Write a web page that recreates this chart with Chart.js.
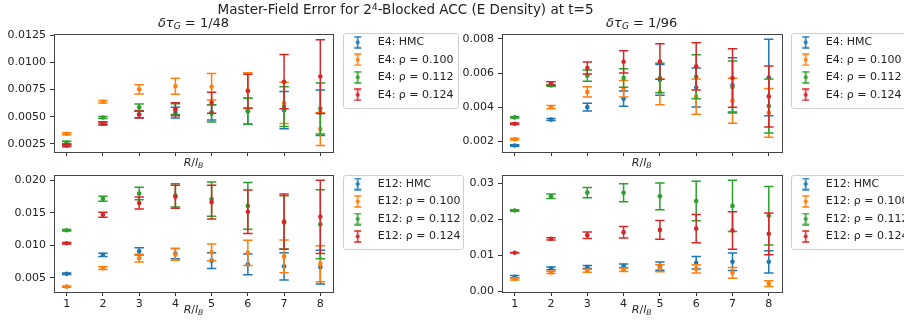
<!DOCTYPE html>
<html><head><meta charset="utf-8">
<script src="https://cdn.jsdelivr.net/npm/chart.js@4.4.1/dist/chart.umd.min.js"></script>
<style>
html,body{margin:0;padding:0;background:#fff;}
#fig{position:relative;width:904px;height:329px;overflow:hidden;font-family:'DejaVu Sans',sans-serif;color:#222;}
#fig canvas{position:absolute;left:0;top:0;}
.t{position:absolute;white-space:nowrap;line-height:1;transform:translateX(-50%);}
.big{font-size:13px;}
.title{font-size:13.5px;}
.small{font-size:11px;}
i{font-style:italic;}
sub{font-size:0.7em;vertical-align:-0.25em;line-height:0;}
sup{font-size:0.7em;vertical-align:0.45em;line-height:0;}
</style></head><body>
<div id="fig">
<canvas id="cTL" width="904" height="329"></canvas>
<canvas id="cTR" width="904" height="329"></canvas>
<canvas id="cBL" width="904" height="329"></canvas>
<canvas id="cBR" width="904" height="329"></canvas>
<div class="t title" style="left:405.5px;top:3.4px;">Master-Field Error for 2<sup>4</sup>-Blocked ACC (E Density) at t=5</div>
<div class="t big" style="left:193.5px;top:16px;"><i>δτ</i><sub><i>G</i></sub> = 1/48</div>
<div class="t big" style="left:641.7px;top:16px;"><i>δτ</i><sub><i>G</i></sub> = 1/96</div>
<div class="t small" style="left:193.5px;top:156.5px;"><i>R</i>/<i>l</i><sub><i>B</i></sub></div>
<div class="t small" style="left:641.7px;top:156.5px;"><i>R</i>/<i>l</i><sub><i>B</i></sub></div>
<div class="t small" style="left:193.5px;top:303.5px;"><i>R</i>/<i>l</i><sub><i>B</i></sub></div>
<div class="t small" style="left:641.7px;top:303.5px;"><i>R</i>/<i>l</i><sub><i>B</i></sub></div>
</div>
<script>
// ---------- DATA ----------
const R = [1, 2, 3, 4, 5, 6, 7, 8];
const seriesLabelsE4 = ['E4: HMC', 'E4: ρ = 0.100', 'E4: ρ = 0.112', 'E4: ρ = 0.124'];
const seriesLabelsE12 = ['E12: HMC', 'E12: ρ = 0.100', 'E12: ρ = 0.112', 'E12: ρ = 0.124'];

// E4, dtau = 1/48
const e4_48_hmc     = [0.00232, 0.00440, 0.00520, 0.00537, 0.00540, 0.00550, 0.00560, 0.00535];
const e4_48_hmc_err = [0.00010, 0.00012, 0.00030, 0.00050, 0.00070, 0.00120, 0.00172, 0.00210];
const e4_48_r100     = [0.00342, 0.00638, 0.00752, 0.00780, 0.00776, 0.00740, 0.00626, 0.00385];
const e4_48_r100_err = [0.00010, 0.00012, 0.00043, 0.00073, 0.00122, 0.00165, 0.00190, 0.00150];
const e4_48_r112     = [0.00262, 0.00492, 0.00586, 0.00570, 0.00530, 0.00550, 0.00592, 0.00575];
const e4_48_r112_err = [0.00010, 0.00010, 0.00030, 0.00050, 0.00080, 0.00120, 0.00183, 0.00235];
const e4_48_r124     = [0.00238, 0.00433, 0.00520, 0.00569, 0.00628, 0.00736, 0.00822, 0.00870];
const e4_48_r124_err = [0.00008, 0.00010, 0.00033, 0.00060, 0.00096, 0.00156, 0.00250, 0.00340];

// E4, dtau = 1/96
const e4_96_hmc     = [0.00175, 0.00327, 0.00400, 0.00450, 0.00560, 0.00515, 0.00530, 0.00574];
const e4_96_hmc_err = [0.00004, 0.00006, 0.00023, 0.00045, 0.00090, 0.00114, 0.00159, 0.00224];
const e4_96_r100     = [0.00212, 0.00400, 0.00489, 0.00508, 0.00489, 0.00462, 0.00438, 0.00367];
const e4_96_r100_err = [0.00005, 0.00010, 0.00030, 0.00049, 0.00075, 0.00103, 0.00132, 0.00143];
const e4_96_r112     = [0.00340, 0.00527, 0.00585, 0.00571, 0.00571, 0.00578, 0.00518, 0.00407];
const e4_96_r112_err = [0.00004, 0.00005, 0.00033, 0.00054, 0.00086, 0.00129, 0.00153, 0.00158];
const e4_96_r124     = [0.00303, 0.00539, 0.00630, 0.00666, 0.00668, 0.00639, 0.00571, 0.00463];
const e4_96_r124_err = [0.00004, 0.00010, 0.00035, 0.00065, 0.00104, 0.00138, 0.00172, 0.00179];

// E12, dtau = 1/48
const e12_48_hmc     = [0.00561, 0.00852, 0.00905, 0.00870, 0.00762, 0.00705, 0.00675, 0.00662];
const e12_48_hmc_err = [0.00010, 0.00025, 0.00056, 0.00080, 0.00120, 0.00158, 0.00209, 0.00260];
const e12_48_r100     = [0.00362, 0.00648, 0.00800, 0.00858, 0.00890, 0.00882, 0.00828, 0.00715];
const e12_48_r100_err = [0.00010, 0.00020, 0.00060, 0.00090, 0.00130, 0.00196, 0.00253, 0.00278];
const e12_48_r112     = [0.01230, 0.01714, 0.01795, 0.01765, 0.01710, 0.01605, 0.01350, 0.01323];
const e12_48_r112_err = [0.00010, 0.00038, 0.00095, 0.00179, 0.00263, 0.00358, 0.00410, 0.00530];
const e12_48_r124     = [0.01030, 0.01469, 0.01650, 0.01745, 0.01662, 0.01514, 0.01362, 0.01437];
const e12_48_r124_err = [0.00010, 0.00038, 0.00092, 0.00176, 0.00260, 0.00335, 0.00424, 0.00564];

// E12, dtau = 1/96
const e12_96_hmc     = [0.00414, 0.00644, 0.00681, 0.00718, 0.00705, 0.00800, 0.00828, 0.00825];
const e12_96_hmc_err = [0.00030, 0.00040, 0.00040, 0.00050, 0.00115, 0.00175, 0.00240, 0.00310];
const e12_96_r100     = [0.00350, 0.00534, 0.00580, 0.00607, 0.00648, 0.00630, 0.00520, 0.00221];
const e12_96_r100_err = [0.00030, 0.00030, 0.00040, 0.00050, 0.00100, 0.00115, 0.00150, 0.00080];
const e12_96_r112     = [0.02245, 0.02641, 0.02742, 0.02740, 0.02640, 0.02510, 0.02375, 0.02105];
const e12_96_r112_err = [0.00020, 0.00060, 0.00140, 0.00250, 0.00370, 0.00550, 0.00710, 0.00810];
const e12_96_r124     = [0.01077, 0.01463, 0.01564, 0.01647, 0.01710, 0.01745, 0.01693, 0.01600];
const e12_96_r124_err = [0.00010, 0.00030, 0.00090, 0.00160, 0.00260, 0.00390, 0.00520, 0.00580];

// tick labels
const xTicks = [1, 2, 3, 4, 5, 6, 7, 8];
const yTicksTL = [0.0025, 0.0050, 0.0075, 0.0100, 0.0125];
const yTicksTR = [0.002, 0.004, 0.006, 0.008];
const yTicksBL = [0.005, 0.010, 0.015, 0.020];
const yTicksBR = [0.00, 0.01, 0.02, 0.03];

// ---------- STYLE ----------
const COLORS = ['#1f77b4', '#ff7f0e', '#2ca02c', '#d62728'];
const FONT = 'DejaVu Sans';
const TEXT = '#222';

function glyph(color) {
  const c = document.createElement('canvas');
  c.width = 9; c.height = 13;
  const g = c.getContext('2d');
  g.strokeStyle = color; g.lineWidth = 1.5;
  g.beginPath();
  g.moveTo(4.5, 1); g.lineTo(4.5, 12);
  g.moveTo(1, 1); g.lineTo(8, 1);
  g.moveTo(1, 12); g.lineTo(8, 12);
  g.stroke();
  g.fillStyle = color;
  g.beginPath(); g.arc(4.5, 6.5, 2, 0, Math.PI * 2); g.fill();
  return c;
}
const GLYPHS = COLORS.map(glyph);

const errorBarPlugin = {
  id: 'errbars',
  beforeDatasetDraw(chart, args) {
    const ds = chart.data.datasets[args.index];
    const ys = chart.scales.y;
    const ctx = chart.ctx;
    const cap = 4.7;
    ctx.save();
    ctx.strokeStyle = ds.borderColor;
    ctx.lineWidth = 1.5;
    args.meta.data.forEach((pt, i) => {
      const v = ds.data[i].y, e = ds.errors[i];
      const yT = ys.getPixelForValue(v + e), yB = ys.getPixelForValue(v - e);
      const x = pt.x;
      ctx.beginPath();
      ctx.moveTo(x, yT); ctx.lineTo(x, yB);
      ctx.moveTo(x - cap, yT); ctx.lineTo(x + cap, yT);
      ctx.moveTo(x - cap, yB); ctx.lineTo(x + cap, yB);
      ctx.stroke();
    });
    ctx.restore();
  }
};

const framePlugin = {
  id: 'frame',
  beforeDraw(chart, args, opts) {
    const ctx = chart.ctx, b = opts.box;
    ctx.save();
    ctx.fillStyle = 'rgba(255,255,255,0.8)';
    ctx.strokeStyle = '#d0d0d0';
    ctx.lineWidth = 1;
    ctx.beginPath();
    ctx.roundRect(b.x + 0.5, b.y + 0.5, b.w, b.h, 2.5);
    ctx.fill(); ctx.stroke();
    ctx.restore();
  },
  afterDraw(chart) {
    const a = chart.chartArea, ctx = chart.ctx;
    ctx.save();
    ctx.strokeStyle = '#444';
    ctx.lineWidth = 1;
    ctx.strokeRect(Math.round(a.left) + 0.5, Math.round(a.top) + 0.5,
                   Math.round(a.right) - Math.round(a.left), Math.round(a.bottom) - Math.round(a.top));
    ctx.restore();
  }
};

const legendPosPlugin = {
  id: 'legendPos',
  afterLayout(chart, args, opts) {
    const lg = chart.legend;
    if (!lg) return;
    lg.left = opts.x; lg.top = opts.y;
    lg.right = opts.x + 140; lg.bottom = opts.y + 90;
  }
};

function makeDatasets(labels, vals, errs) {
  return vals.map((v, k) => ({
    label: labels[k],
    data: R.map((r, i) => ({ x: r, y: v[i] })),
    errors: errs[k],
    backgroundColor: COLORS[k],
    borderColor: COLORS[k],
    pointRadius: 2.3,
    pointHoverRadius: 2.3,
    pointBorderWidth: 0,
    showLine: false,
    order: 3 - k
  }));
}

function makeChart(id, p) {
  new Chart(document.getElementById(id), {
    type: 'scatter',
    data: { datasets: makeDatasets(p.labels, p.vals, p.errs) },
    plugins: [errorBarPlugin, framePlugin, legendPosPlugin],
    options: {
      responsive: false,
      animation: false,
      devicePixelRatio: 1,
      events: [],
      layout: { padding: p.pad },
      scales: {
        x: {
          type: 'linear', min: 0.65, max: 8.35,
          afterBuildTicks: s => { s.ticks = xTicks.map(v => ({ value: v })); },
          afterFit: s => { s.height = p.xH; },
          ticks: { display: p.xLabels, color: TEXT, font: { family: FONT, size: 11 }, padding: 2, maxRotation: 0,
                   callback: v => String(v) },
          grid: { display: true, drawOnChartArea: false, drawTicks: true, tickLength: 4, color: '#333', lineWidth: 1 },
          border: { display: false }
        },
        y: {
          type: 'linear', min: p.yMin, max: p.yMax,
          afterBuildTicks: s => { s.ticks = p.yTicks.map(v => ({ value: v })); },
          afterFit: s => { s.width = p.yW; },
          ticks: { color: TEXT, font: { family: FONT, size: 11 }, padding: 4,
                   callback: v => Number(v).toFixed(p.dec) },
          grid: { display: true, drawOnChartArea: false, drawTicks: true, tickLength: 4, color: '#333', lineWidth: 1 },
          border: { display: false }
        }
      },
      plugins: {
        title: { display: false },
        tooltip: { enabled: false },
        legend: {
          display: true, position: 'right', align: 'start', maxWidth: 60,
          labels: {
            color: TEXT, font: { family: FONT, size: 11 },
            usePointStyle: true, pointStyleWidth: 29, boxWidth: 29, boxHeight: 11, padding: 6.5,
            generateLabels: chart => {
              const items = Chart.defaults.plugins.legend.labels.generateLabels(chart);
              items.forEach(it => { it.pointStyle = GLYPHS[it.datasetIndex]; it.lineWidth = 0; });
              items.sort((a, b) => a.datasetIndex - b.datasetIndex);
              return items;
            }
          }
        },
        frame: { box: p.box },
        legendPos: p.leg
      }
    }
  });
}

makeChart('cTL', {
  labels: seriesLabelsE4,
  vals: [e4_48_hmc, e4_48_r100, e4_48_r112, e4_48_r124],
  errs: [e4_48_hmc_err, e4_48_r100_err, e4_48_r112_err, e4_48_r124_err],
  pad: { left: 0, right: 511, top: 34, bottom: 159 }, xH: 18, yW: 54, xLabels: false,
  yMin: 0.00174, yMax: 0.01262, yTicks: yTicksTL, dec: 4,
  box: { x: 343, y: 33, w: 115, h: 75 }, leg: { x: 336.7, y: 30.3 }
});
makeChart('cTR', {
  labels: seriesLabelsE4,
  vals: [e4_96_hmc, e4_96_r100, e4_96_r112, e4_96_r124],
  errs: [e4_96_hmc_err, e4_96_r100_err, e4_96_r112_err, e4_96_r124_err],
  pad: { left: 460, right: 62.5, top: 34, bottom: 159 }, xH: 18, yW: 42, xLabels: false,
  yMin: 0.00137, yMax: 0.00829, yTicks: yTicksTR, dec: 3,
  box: { x: 791, y: 33, w: 130, h: 75 }, leg: { x: 784.7, y: 30.3 }
});
makeChart('cBL', {
  labels: seriesLabelsE12,
  vals: [e12_48_hmc, e12_48_r100, e12_48_r112, e12_48_r124],
  errs: [e12_48_hmc_err, e12_48_r100_err, e12_48_r112_err, e12_48_r124_err],
  pad: { left: 0, right: 511, top: 175, bottom: 0 }, xH: 37, yW: 54, xLabels: true,
  yMin: 0.0028, yMax: 0.0208, yTicks: yTicksBL, dec: 3,
  box: { x: 343, y: 175, w: 120, h: 74 }, leg: { x: 336.7, y: 172 }
});
makeChart('cBR', {
  labels: seriesLabelsE12,
  vals: [e12_96_hmc, e12_96_r100, e12_96_r112, e12_96_r124],
  errs: [e12_96_hmc_err, e12_96_r100_err, e12_96_r112_err, e12_96_r124_err],
  pad: { left: 460, right: 62.5, top: 175, bottom: 0 }, xH: 37, yW: 42, xLabels: true,
  yMin: -0.0001, yMax: 0.0323, yTicks: yTicksBR, dec: 2,
  box: { x: 791, y: 175, w: 130, h: 74 }, leg: { x: 784.7, y: 172 }
});
</script>
</body></html>
